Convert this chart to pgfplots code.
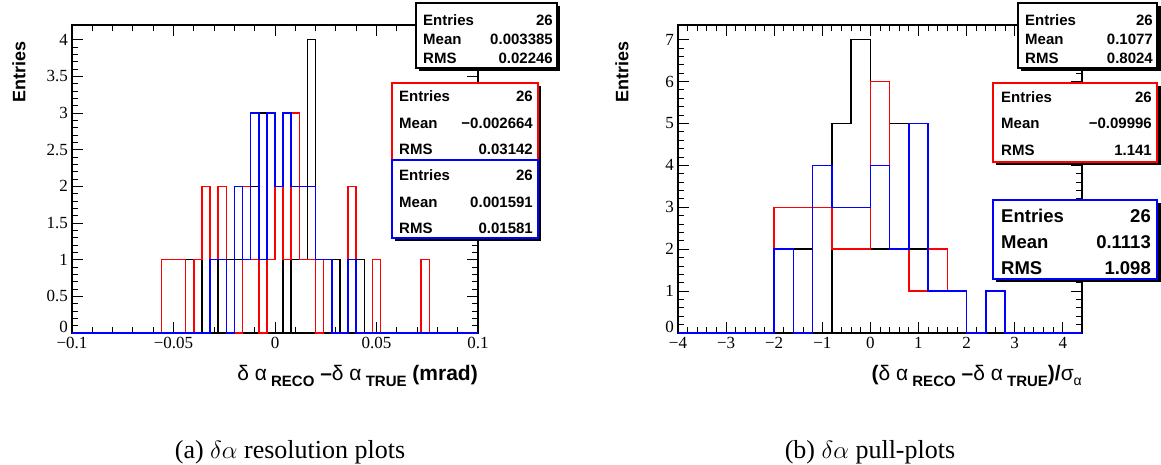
\documentclass[border=0pt]{standalone}
\usepackage{fontspec}
\setmainfont{Liberation Serif}
\setsansfont{Liberation Sans}
\usepackage{pgfplots}
\pgfplotsset{compat=1.18}
\usepackage{pgfplotstable}
\definecolor{hred}{RGB}{255,0,0}
\definecolor{hblue}{RGB}{0,0,255}

% bin left edge, black, red, blue
\pgfplotstableread{
x      b r u
-0.100 0 0 0
-0.096 0 0 0
-0.092 0 0 0
-0.088 0 0 0
-0.084 0 0 0
-0.080 0 0 0
-0.076 0 0 0
-0.072 0 0 0
-0.068 0 0 0
-0.064 0 0 0
-0.060 0 0 0
-0.056 0 1 0
-0.052 0 1 0
-0.048 0 1 0
-0.044 1 0 0
-0.040 1 1 0
-0.036 0 2 0
-0.032 0 1 1
-0.028 1 2 1
-0.024 1 0 0
-0.020 1 0 2
-0.016 1 2 1
-0.012 2 1 3
-0.008 3 0 1
-0.004 1 1 3
0.000  2 2 2
0.004  0 1 3
0.008  1 3 2
0.012  1 1 2
0.016  4 1 2
0.020  1 0 1
0.024  1 1 1
0.028  1 0 0
0.032  0 0 0
0.036  2 2 1
0.040  1 0 0
0.044  0 0 0
0.048  0 1 0
0.052  0 0 0
0.056  0 0 0
0.060  0 0 0
0.064  0 0 0
0.068  0 0 0
0.072  0 1 0
0.076  0 0 0
0.080  0 0 0
0.084  0 0 0
0.088  0 0 0
0.092  0 0 0
0.096  0 0 0
0.100  0 0 0
}\leftdata

\pgfplotstableread{
x    b r u
-4.0 0 0 0
-3.6 0 0 0
-3.2 0 0 0
-2.8 0 0 0
-2.4 0 0 0
-2.0 0 3 2
-1.6 2 3 0
-1.2 0 3 4
-0.8 5 2 3
-0.4 7 2 3
0.0  2 6 4
0.4  5 2 2
0.8  2 1 5
1.2  2 2 1
1.6  1 1 1
2.0  0 0 0
2.4  0 1 1
2.8  0 0 0
3.2  0 0 0
3.6  0 0 0
4.0  0 0 0
4.4  0 0 0
}\rightdata

\pgfplotsset{
  rootaxis/.style={
    scale only axis, anchor=south west,
    axis line style={line width=1.2pt},
    tick align=inside,
    major tick length=11pt, minor tick length=6pt,
    every tick/.style={line width=0.9pt, black},
    minor tick num=4,
    tick label style={font=\fontsize{17}{17}\selectfont, inner sep=0pt},
    xticklabel style={yshift=-4pt},
    yticklabel style={xshift=-4pt},
    scaled ticks=false,
  }
}
\newcommand{\sub}[1]{\raisebox{-6pt}{\fontsize{15}{15}\selectfont\bfseries #1}}
\newcommand{\subs}[1]{\raisebox{-5pt}{\fontsize{14}{14}\selectfont\mdseries #1}}
\newcommand{\zerolab}{\raisebox{1pt}[0pt][0pt]{0}}

\begin{document}
\begin{tikzpicture}[x=1pt,y=1pt]
\useasboundingbox (0,0) rectangle (1161,464);

% ---------- left: resolution ----------
\begin{axis}[rootaxis, at={(72pt,131pt)}, width=406pt, height=308pt,
  xmin=-0.1, xmax=0.1, ymin=0, ymax=4.2,
  xtick={-0.1,-0.05,0,0.05,0.1}, xticklabels={−0.1,−0.05,0,0.05,0.1},
  ytick={0,0.5,1,1.5,2,2.5,3,3.5,4}, yticklabels={\zerolab,0.5,1,1.5,2,2.5,3,3.5,4}]
\addplot[const plot, draw=black, line width=1.5pt] table[x=x,y=b] {\leftdata};
\addplot[const plot, draw=hred, line width=1.5pt] table[x=x,y=r] {\leftdata};
\addplot[const plot, draw=hblue, line width=1.5pt] table[x=x,y=u] {\leftdata};
\end{axis}

% ---------- right: pulls ----------
\begin{axis}[rootaxis, at={(678pt,131pt)}, width=404pt, height=308pt,
  xmin=-4, xmax=4.4, ymin=0, ymax=7.35,
  xtick={-4,-3,-2,-1,0,1,2,3,4}, xticklabels={−4,−3,−2,−1,0,1,2,3,4},
  ytick={0,1,2,3,4,5,6,7}, yticklabels={\zerolab,1,2,3,4,5,6,7}]
\addplot[const plot, draw=black, line width=1.5pt] table[x=x,y=b] {\rightdata};
\addplot[const plot, draw=hred, line width=1.5pt] table[x=x,y=r] {\rightdata};
\addplot[const plot, draw=hblue, line width=1.5pt] table[x=x,y=u] {\rightdata};
\end{axis}

% axis titles
\node[rotate=90, anchor=east, font=\sffamily\bfseries\fontsize{18}{18}\selectfont] at (19,426) {Entries};
\node[rotate=90, anchor=east, font=\sffamily\bfseries\fontsize{18}{18}\selectfont] at (622,426) {Entries};

\node[anchor=base east, font=\sffamily\bfseries\fontsize{21}{21}\selectfont, inner sep=0pt] at (478,84)
  {{\mdseries δ α}\sub{ RECO} –{\mdseries δ α}\sub{ TRUE} (mrad)};
\node[anchor=base east, font=\sffamily\bfseries\fontsize{21}{21}\selectfont, inner sep=0pt] at (1082,84)
  {({\mdseries δ α}\sub{ RECO} –{\mdseries δ α}\sub{ TRUE})/{\mdseries σ}\subs{α}};

% captions
\node[font=\fontsize{26}{26}\selectfont] at (290,12) {(a) $\delta\alpha$ resolution plots};
\node[font=\fontsize{26}{26}\selectfont] at (870,12) {(b) $\delta\alpha$ pull-plots};

% ---------- stat boxes ----------
\begin{scope}[font=\sffamily\bfseries\fontsize{15}{15}\selectfont]
% left black
\fill[black] (419,393) rectangle (560,458);
\draw[black, line width=1.1pt, fill=white] (416,396) rectangle (557,461);
\node[anchor=base west, inner sep=0pt] at (423,438) {Entries};
\node[anchor=base east, inner sep=0pt] at (553,438) {26};
\node[anchor=base west, inner sep=0pt] at (423,419) {Mean};
\node[anchor=base east, inner sep=0pt] at (553,419) {0.003385};
\node[anchor=base west, inner sep=0pt] at (423,400) {RMS};
\node[anchor=base east, inner sep=0pt] at (553,400) {0.02246};
% left red
\fill[black] (395,301) rectangle (541,378);
\draw[hred, line width=1.1pt, fill=white] (392,304) rectangle (538,381);
\node[anchor=base west, inner sep=0pt] at (399,362) {Entries};
\node[anchor=base east, inner sep=0pt] at (533,362) {26};
\node[anchor=base west, inner sep=0pt] at (399,335) {Mean};
\node[anchor=base east, inner sep=0pt] at (533,335) {−0.002664};
\node[anchor=base west, inner sep=0pt] at (399,309) {RMS};
\node[anchor=base east, inner sep=0pt] at (533,309) {0.03142};
% left blue
\fill[black] (395,223) rectangle (541,301);
\draw[hblue, line width=1.1pt, fill=white] (392,226) rectangle (538,304);
\node[anchor=base west, inner sep=0pt] at (399,283) {Entries};
\node[anchor=base east, inner sep=0pt] at (533,283) {26};
\node[anchor=base west, inner sep=0pt] at (399,256) {Mean};
\node[anchor=base east, inner sep=0pt] at (533,256) {0.001591};
\node[anchor=base west, inner sep=0pt] at (399,230) {RMS};
\node[anchor=base east, inner sep=0pt] at (533,230) {0.01581};
% right black
\fill[black] (1021,393) rectangle (1161,458);
\draw[black, line width=1.1pt, fill=white] (1018,396) rectangle (1157,461);
\node[anchor=base west, inner sep=0pt] at (1025,438) {Entries};
\node[anchor=base east, inner sep=0pt] at (1153,438) {26};
\node[anchor=base west, inner sep=0pt] at (1025,419) {Mean};
\node[anchor=base east, inner sep=0pt] at (1153,419) {0.1077};
\node[anchor=base west, inner sep=0pt] at (1025,400) {RMS};
\node[anchor=base east, inner sep=0pt] at (1153,400) {0.8024};
% right red
\fill[black] (996,299) rectangle (1161,378);
\draw[hred, line width=1.1pt, fill=white] (993,302) rectangle (1157,381);
\node[anchor=base west, inner sep=0pt] at (1001,361) {Entries};
\node[anchor=base east, inner sep=0pt] at (1152,361) {26};
\node[anchor=base west, inner sep=0pt] at (1001,335) {Mean};
\node[anchor=base east, inner sep=0pt] at (1152,335) {−0.09996};
\node[anchor=base west, inner sep=0pt] at (1001,308) {RMS};
\node[anchor=base east, inner sep=0pt] at (1152,308) {1.141};
\end{scope}
% right blue (larger text)
\begin{scope}[font=\sffamily\bfseries\fontsize{18.5}{18.5}\selectfont]
\fill[black] (996,182) rectangle (1161,261);
\draw[hblue, line width=1.1pt, fill=white] (993,185) rectangle (1157,264);
\node[anchor=base west, inner sep=0pt] at (1001,241) {Entries};
\node[anchor=base east, inner sep=0pt] at (1151,241) {26};
\node[anchor=base west, inner sep=0pt] at (1001,216) {Mean};
\node[anchor=base east, inner sep=0pt] at (1151,216) {0.1113};
\node[anchor=base west, inner sep=0pt] at (1001,190) {RMS};
\node[anchor=base east, inner sep=0pt] at (1151,190) {1.098};
\end{scope}
\end{tikzpicture}
\end{document}
